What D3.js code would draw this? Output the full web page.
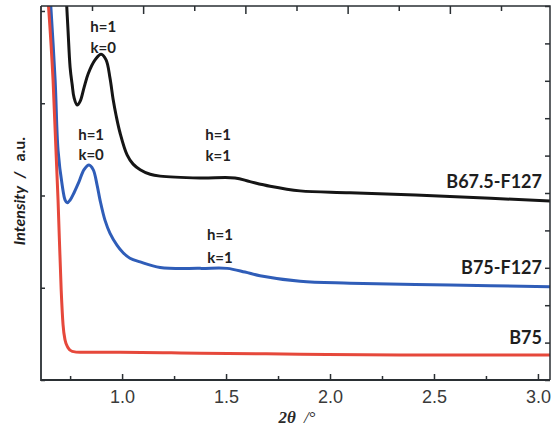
<!DOCTYPE html>
<html>
<head>
<meta charset="utf-8">
<script src="https://cdn.jsdelivr.net/npm/d3@7"></script>
<style>
  html, body { margin: 0; padding: 0; background: #fff; }
  svg { display: block; }
</style>
</head>
<body>
<svg id="chart" width="552" height="432"></svg>
<script>
// ---- data (2θ in degrees, intensity in arbitrary units) ----
const xB75 = [0.644, 0.668, 0.692, 0.707, 0.716, 0.726, 0.740, 0.760, 0.798, 0.990, 1.375, 1.856, 2.337, 3.058];
const yB75 = [4.12, 3.25, 1.95, 0.98, 0.60, 0.43, 0.35, 0.31, 0.30, 0.30, 0.29, 0.28, 0.27, 0.27];

const xB75F127 = [0.654, 0.678, 0.692, 0.712, 0.726, 0.736, 0.750, 0.769, 0.793, 0.817, 0.841, 0.861, 0.880, 0.894, 0.918, 0.942, 0.976, 1.005, 1.038, 1.087, 1.183, 1.375, 1.505, 1.591, 1.663, 1.856, 2.096, 2.577, 3.058];
const yB75F127 = [4.17, 3.25, 2.49, 2.11, 1.95, 1.92, 1.95, 2.03, 2.15, 2.28, 2.33, 2.28, 2.11, 1.95, 1.73, 1.59, 1.46, 1.38, 1.32, 1.28, 1.22, 1.21, 1.21, 1.17, 1.13, 1.07, 1.05, 1.03, 1.01];

const xB675F127 = [0.731, 0.740, 0.750, 0.760, 0.769, 0.784, 0.798, 0.817, 0.837, 0.870, 0.899, 0.923, 0.942, 0.957, 0.971, 0.990, 1.024, 1.053, 1.087, 1.135, 1.183, 1.375, 1.543, 1.615, 1.712, 1.856, 2.096, 2.577, 3.058];
const yB675F127 = [4.17, 3.79, 3.39, 3.20, 3.06, 2.98, 3.02, 3.17, 3.32, 3.47, 3.53, 3.47, 3.27, 3.04, 2.87, 2.68, 2.44, 2.34, 2.28, 2.23, 2.21, 2.19, 2.19, 2.15, 2.10, 2.05, 2.03, 1.99, 1.94];

const seriesNames = ["B67.5-F127", "B75-F127", "B75"];
const seriesColors = ["#151515", "#2f5db8", "#e6483b"];
const labelY = [2.15, 1.22, 0.46];   // label vertical positions (a.u.)

const xMajorTicks = [1.0, 1.5, 2.0, 2.5, 3.0];
const xMinorTicks = [0.75, 1.25, 1.75, 2.25, 2.75];
const topTicks = [0.75, 1.0, 1.25, 1.5, 1.75, 2.0, 2.25, 2.5, 2.75];
const yTicks = [0, 1, 2, 3, 4];
const yRightTicks = [0, 1, 2, 3, 4, 5, 6, 7, 8, 9, 10];

const annX = [0.909, 0.851, 1.462, 1.471];
const annH = [3.83, 2.66, 2.66, 1.57];
const annK = [3.60, 2.44, 2.43, 1.32];
const annKText = ["k=0", "k=0", "k=1", "k=1"];

// ---- layout ----
const L = 41, R = 550, T = 6, B = 380;
const svg = d3.select("#chart");
const x = d3.scaleLinear().domain([0.61, 3.058]).range([L, R]);
const y = d3.scaleLinear().domain([0, 4.054]).range([B, T]);
const yR = d3.scaleLinear().domain([0, 10]).range([B, T]);
const xTop = d3.scaleLinear().domain([0.75, 2.75]).range([92, 501]);

svg.append("defs").append("clipPath").attr("id", "clip")
  .append("rect").attr("x", L).attr("y", T).attr("width", R - L).attr("height", B - T);

// curves
const seriesData = [
  d3.zip(xB675F127, yB675F127),
  d3.zip(xB75F127, yB75F127),
  d3.zip(xB75, yB75)
];
const curves = [d3.curveCatmullRom.alpha(0.5), d3.curveCatmullRom.alpha(0.5), d3.curveMonotoneX];
const g = svg.append("g").attr("clip-path", "url(#clip)");
seriesData.forEach((d, i) => {
  const line = d3.line().x(p => x(p[0])).y(p => y(p[1])).curve(curves[i]);
  g.append("path").datum(d)
    .attr("d", line)
    .attr("fill", "none")
    .attr("stroke", seriesColors[i])
    .attr("stroke-width", 3)
    .attr("stroke-linejoin", "round");
});

// axes
const axisColor = "#2a2f33";
function styleAxis(sel) {
  sel.select(".domain").remove();
  sel.selectAll("line").attr("stroke", axisColor).attr("stroke-width", 1.5);
}
const gb = svg.append("g").attr("transform", `translate(0,${B})`)
  .call(d3.axisBottom(x).tickValues(xMajorTicks).tickSize(-6).tickPadding(10).tickFormat(d3.format(".1f")));
styleAxis(gb);
gb.selectAll("text").attr("font-family", "Liberation Sans, Arial, sans-serif").attr("font-size", 18).attr("fill", "#3a3a3a");
const gbm = svg.append("g").attr("transform", `translate(0,${B})`)
  .call(d3.axisBottom(x).tickValues(xMinorTicks).tickSize(-4).tickFormat(""));
styleAxis(gbm);

const gt = svg.append("g").attr("transform", `translate(0,${T})`)
  .call(d3.axisTop(xTop).tickValues(topTicks).tickSize(-5).tickFormat(""));
styleAxis(gt);
gt.selectAll(".tick line").attr("y2", d => (Math.abs(d * 2 - Math.round(d * 2)) < 1e-6) ? 8 : 5);

const gl = svg.append("g").attr("transform", `translate(${L},0)`)
  .call(d3.axisLeft(y).tickValues(yTicks).tickSize(-4).tickFormat(""));
styleAxis(gl);

const gr = svg.append("g").attr("transform", `translate(${R},0)`)
  .call(d3.axisRight(yR).tickValues(yRightTicks).tickSize(-5).tickFormat(""));
styleAxis(gr);

// frame
svg.append("path")
  .attr("d", `M${L},${T}V${B}H${R}`)
  .attr("fill", "none").attr("stroke", axisColor).attr("stroke-width", 1.8);
svg.append("path")
  .attr("d", `M${L},${T}H${R}V${B}`)
  .attr("fill", "none").attr("stroke", axisColor).attr("stroke-width", 1.5);

// series labels
seriesNames.forEach((n, i) => {
  svg.append("text")
    .attr("x", 542).attr("y", y(labelY[i]))
    .attr("dy", "0.35em")
    .attr("text-anchor", "end")
    .attr("font-family", "Lato, sans-serif").attr("font-weight", "bold").attr("font-size", 18)
    .attr("fill", "#1e1e1e")
    .text(n);
});

// peak annotations
annX.forEach((ax, i) => {
  [["h=1", annH[i]], [annKText[i], annK[i]]].forEach(([t, yy]) => {
    svg.append("text")
      .attr("x", x(ax)).attr("y", y(yy)).attr("dy", "0.35em")
      .attr("text-anchor", "middle")
      .attr("font-family", "Lato, sans-serif").attr("font-weight", "bold").attr("font-size", 15)
      .attr("fill", "#222")
      .text(t);
  });
});

// axis titles
const xt = svg.append("text").attr("x", 297).attr("y", 423).attr("text-anchor", "middle")
  .attr("font-family", "Liberation Serif, Times New Roman, serif").attr("font-size", 17).attr("fill", "#2a2a2a");
xt.append("tspan").attr("font-style", "italic").attr("font-weight", "bold").text("2θ");
xt.append("tspan").attr("dx", 8).attr("font-style", "italic").text("/°");

const yt = svg.append("text").attr("transform", "translate(25,191) rotate(-90)").attr("text-anchor", "middle")
  .attr("font-family", "Lato, sans-serif").attr("font-size", 16).attr("fill", "#1e1e1e").attr("font-weight", "bold");
yt.append("tspan").attr("font-style", "italic").text("Intensity");
yt.append("tspan").attr("dx", 8).attr("font-style", "italic").text("/");
yt.append("tspan").attr("dx", 10).text("a.u.");
</script>
</body>
</html>
